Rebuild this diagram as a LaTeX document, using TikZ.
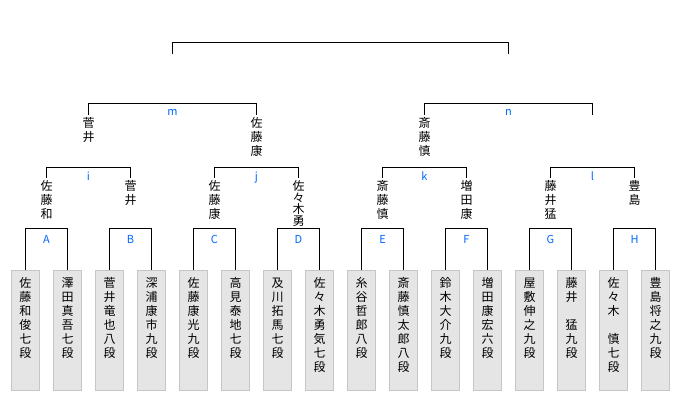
\documentclass[tikz,border=0pt]{standalone}
\usepackage{fontspec}
\setmainfont{Noto Sans CJK JP}
\definecolor{rndblue}{RGB}{0,102,255}
\newcommand{\vname}[1]{\parbox[t]{14pt}{\centering #1}}

\begin{document}
\begin{tikzpicture}
  [x=1pt,y=-1pt,line width=1pt,
   player/.style={draw=gray!45,fill=gray!20,anchor=north,
     minimum width=28pt,inner xsep=0pt,inner ysep=6pt,
     text height=11pt,text depth=97pt,font=\fontsize{12}{14}\selectfont},
   winner/.style={anchor=north,inner xsep=0pt,inner ysep=1pt,
     text height=11pt,font=\fontsize{12}{14}\selectfont},
   rnd/.style={anchor=base,inner sep=0pt,text=rndblue,font=\fontsize{11}{12}\selectfont}]
  \useasboundingbox (0,0) rectangle (680,400);

  % players
  \node[player] (p1) at (25.5,270) {\vname{佐\\藤\\和\\俊\\七\\段}};
  \node[player] (p2) at (67.5,270) {\vname{澤\\田\\真\\吾\\七\\段}};
  \node[player] (p3) at (109.5,270) {\vname{菅\\井\\竜\\也\\八\\段}};
  \node[player] (p4) at (151.5,270) {\vname{深\\浦\\康\\市\\九\\段}};
  \node[player] (p5) at (193.5,270) {\vname{佐\\藤\\康\\光\\九\\段}};
  \node[player] (p6) at (235.5,270) {\vname{高\\見\\泰\\地\\七\\段}};
  \node[player] (p7) at (277.5,270) {\vname{及\\川\\拓\\馬\\七\\段}};
  \node[player] (p8) at (319.5,270) {\vname{佐\\々\\木\\勇\\気\\七\\段}};
  \node[player] (p9) at (361.5,270) {\vname{糸\\谷\\哲\\郎\\八\\段}};
  \node[player] (p10) at (403.5,270) {\vname{斎\\藤\\慎\\太\\郎\\八\\段}};
  \node[player] (p11) at (445.5,270) {\vname{鈴\\木\\大\\介\\九\\段}};
  \node[player] (p12) at (487.5,270) {\vname{増\\田\\康\\宏\\六\\段}};
  \node[player] (p13) at (529.5,270) {\vname{屋\\敷\\伸\\之\\九\\段}};
  \node[player] (p14) at (571.5,270) {\vname{藤\\井\\　\\猛\\九\\段}};
  \node[player] (p15) at (613.5,270) {\vname{佐\\々\\木\\　\\慎\\七\\段}};
  \node[player] (p16) at (655.5,270) {\vname{豊\\島\\将\\之\\九\\段}};

  % first round winners
  \node[winner] (w1) at (46.5,178) {\vname{佐\\藤\\和}};
  \node[winner] (w2) at (130.5,178) {\vname{菅\\井}};
  \node[winner] (w3) at (214.5,178) {\vname{佐\\藤\\康}};
  \node[winner,font=\fontsize{12}{11.5}\selectfont] (w4) at (298.5,178) {\vname{佐\\々\\木\\勇}};
  \node[winner] (w5) at (382.5,178) {\vname{斎\\藤\\慎}};
  \node[winner] (w6) at (466.5,178) {\vname{増\\田\\康}};
  \node[winner] (w7) at (550.5,178) {\vname{藤\\井\\猛}};
  \node[winner] (w8) at (634.5,178) {\vname{豊\\島}};

  % second round winners
  \node[winner] (s1) at (88.5,115) {\vname{菅\\井}};
  \node[winner] (s2) at (256.5,115) {\vname{佐\\藤\\康}};
  \node[winner] (s3) at (424.5,115) {\vname{斎\\藤\\慎}};
  \coordinate (s4) at (592.5,115);

  % final
  \coordinate (t1) at (172.5,54);
  \coordinate (t2) at (508.5,54);

  % match labels
  \node[rnd] (lA) at (46.5,243) {A};
  \node[rnd] (lB) at (130.5,243) {B};
  \node[rnd] (lC) at (214.5,243) {C};
  \node[rnd] (lD) at (298.5,243) {D};
  \node[rnd] (lE) at (382.5,243) {E};
  \node[rnd] (lF) at (466.5,243) {F};
  \node[rnd] (lG) at (550.5,243) {G};
  \node[rnd] (lH) at (634.5,243) {H};
  \node[rnd] (li) at (88.5,180) {i};
  \node[rnd] (lj) at (256.5,180) {j};
  \node[rnd] (lk) at (424.5,180) {k};
  \node[rnd] (ll) at (592.5,180) {l};
  \node[rnd] (lm) at (172.5,115.5) {m};
  \node[rnd] (ln) at (508.5,115.5) {n};

  \foreach \from/\to in {p1/p2,p3/p4,p5/p6,p7/p8,p9/p10,p11/p12,p13/p14,p15/p16}
    \draw (\from.north) -- ++(0,-42) -| (\to.north);
  \foreach \from/\to in {w1/w2,w3/w4,w5/w6,w7/w8}
    \draw (\from.north) -- ++(0,-11) -| (\to.north);
  \draw (s1.north) -- ++(0,-11.5) -| (s2.north);
  \draw (s3.north) -- ++(0,-11.5) -| (s4);
  \draw (t1) -- ++(0,-11.7) -| (t2);

\end{tikzpicture}
\end{document}
